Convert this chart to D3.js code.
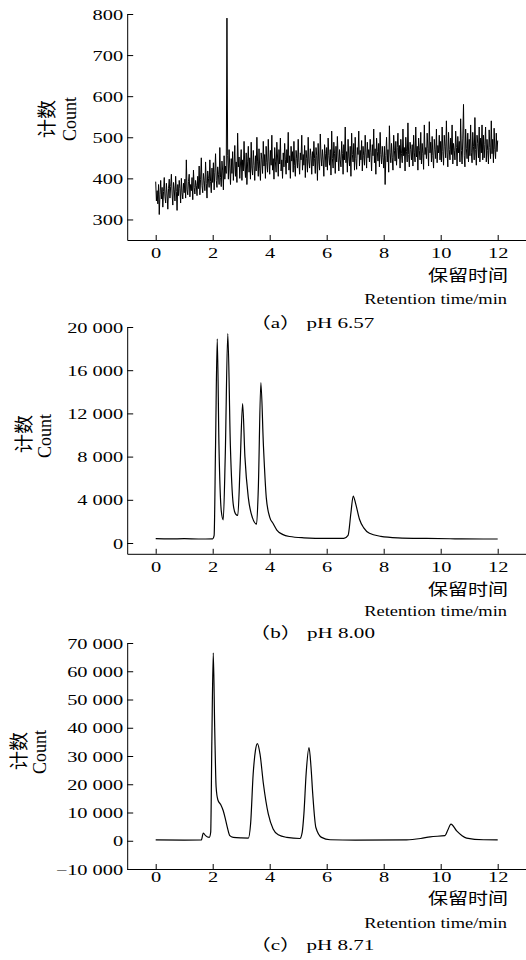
<!DOCTYPE html>
<html><head><meta charset="utf-8">
<script src="https://cdn.jsdelivr.net/npm/d3@7"></script>
<style>html,body{margin:0;padding:0;background:#fff;}</style>
</head><body>
<svg id="chart" width="526" height="960"></svg>
<script>
// ---------------- DATA ----------------
const xTicks = [0, 2, 4, 6, 8, 10, 12];
const yTicksA = [300, 400, 500, 600, 700, 800];
const yTicksB = [0, 4000, 8000, 12000, 16000, 20000];
const yTicksC = [-10000, 0, 10000, 20000, 30000, 40000, 50000, 60000, 70000];
const captions = ["（a） pH 6.57", "（b） pH 8.00", "（c） pH 8.71"];
const xTitleCN = "保留时间";
const xTitleEN = "Retention time/min";
const yTitleCN = "计数";
const yTitleEN = "Count";

// (a) pH 6.57 — sampled every 0.025 min from 0 to 12 min (one row = 0.5 min)
const sampleStepA = 0.025;
const countsA = [
  392, 345, 370, 338, 385, 312, 360, 395, 350, 378, 330, 368, 402, 355, 340, 388, 362, 325, 375, 398,
  352, 380, 410, 362, 335, 390, 372, 345, 405, 368, 322, 385, 358, 395, 375, 340, 400, 365, 350, 388,
  365, 398, 352, 445, 372, 360, 392, 410, 355, 385, 370, 402, 348, 420, 378, 362, 395, 382, 358, 405,
  375, 430, 360, 398, 450, 382, 365, 412, 395, 370, 440, 388, 352, 418, 400, 378, 445, 392, 365, 425,
  390, 438, 372, 415, 460, 395, 378, 428, 410, 385, 475, 402, 380, 442, 418, 372, 455, 398, 430, 412,
  790, 455, 398, 470, 425, 385, 448, 412, 465, 395, 430, 480, 405, 440, 390, 510, 428, 452, 400, 435,
  470, 395, 445, 418, 490, 430, 402, 462, 385, 440, 478, 415, 450, 398, 488, 425, 408, 468, 432, 395,
  455, 418, 500, 440, 405, 472, 425, 395, 462, 445, 412, 490, 430, 458, 400, 478, 438, 415, 495, 442,
  410, 468, 432, 505, 420, 448, 398, 475, 440, 415, 488, 452, 405, 470, 435, 498, 418, 445, 400, 462,
  428, 485, 445, 410, 470, 438, 512, 420, 455, 400, 478, 442, 465, 415, 490, 432, 405, 468, 448, 425,
  495, 438, 410, 462, 445, 505, 420, 458, 432, 480, 402, 468, 448, 415, 500, 440, 425, 472, 455, 410,
  465, 430, 490, 448, 412, 475, 455, 395, 485, 440, 420, 508, 452, 430, 470, 445, 405, 482, 460, 428,
  475, 420, 498, 455, 432, 470, 408, 515, 448, 425, 488, 460, 412, 478, 440, 502, 452, 418, 470, 445,
  428, 490, 460, 410, 482, 445, 525, 438, 465, 415, 495, 452, 430, 478, 405, 510, 458, 440, 485, 420,
  500, 448, 422, 475, 458, 515, 430, 468, 445, 492, 418, 478, 455, 432, 505, 462, 425, 488, 450, 470,
  440, 495, 462, 418, 482, 455, 520, 438, 472, 410, 498, 465, 442, 485, 428, 512, 458, 435, 478, 450,
  425, 478, 385, 455, 500, 440, 470, 415, 528, 462, 438, 485, 450, 420, 505, 468, 442, 490, 432, 475,
  510, 448, 480, 425, 495, 460, 438, 520, 455, 475, 418, 500, 465, 440, 535, 458, 428, 488, 470, 445,
  482, 430, 505, 462, 440, 525, 452, 478, 420, 498, 468, 445, 512, 435, 485, 460, 422, 530, 458, 475,
  448, 510, 472, 430, 538, 462, 488, 440, 502, 455, 425, 495, 470, 448, 520, 438, 480, 462, 505, 445,
  490, 440, 525, 465, 432, 505, 478, 450, 540, 462, 428, 512, 470, 445, 498, 458, 530, 435, 485, 468,
  445, 515, 475, 430, 502, 462, 490, 440, 545, 468, 435, 498, 580, 455, 428, 520, 472, 448, 510, 440,
  495, 455, 530, 462, 438, 512, 478, 445, 548, 470, 432, 505, 485, 450, 525, 440, 498, 462, 530, 445,
  505, 450, 482, 525, 440, 495, 468, 435, 518, 475, 448, 540, 460, 495, 438, 522, 470, 448, 510, 465,
  492
];

// (b) pH 8.00
const timesB = [0, 0.5, 1.0, 1.5, 2.0, 2.05, 2.1, 2.16, 2.22, 2.3, 2.37, 2.44, 2.53, 2.62, 2.72, 2.8, 2.88,
  2.96, 3.05, 3.13, 3.25, 3.4, 3.54, 3.6, 3.69, 3.78, 3.88, 4.0, 4.12, 4.25, 4.45, 4.7, 5.2, 6.0, 6.6,
  6.75, 6.85, 6.93, 7.02, 7.15, 7.3, 7.5, 7.9, 8.5, 9.5, 10.5, 11.5, 12];
const countsB = [400, 380, 400, 370, 390, 700, 9000, 18900, 9000, 3000, 2150, 8000, 19400, 9000, 3600, 2700, 2550,
  7000, 12900, 8000, 4200, 2300, 1750, 5000, 14850, 9000, 4200, 2400, 1800, 1200, 800, 600, 480, 420, 420,
  700, 2800, 4350, 3600, 2200, 1400, 900, 620, 480, 420, 390, 370, 370];

// (c) pH 8.71
const timesC = [0, 1.0, 1.6, 1.67, 1.75, 1.88, 1.93, 1.97, 2.02, 2.07, 2.12, 2.18, 2.28, 2.37, 2.45, 2.52, 2.6,
  2.72, 3.0, 3.25, 3.33, 3.42, 3.5, 3.57, 3.66, 3.78, 3.95, 4.12, 4.3, 4.6, 5.06, 5.14, 5.2, 5.28, 5.38,
  5.45, 5.51, 5.62, 5.82, 6.12, 7.0, 8.8, 9.3, 9.63, 10.15, 10.25, 10.36, 10.56, 10.75, 10.91, 11.5, 12];
const countsC = [300, 250, 280, 2700, 1800, 1200, 3000, 35000, 66500, 40000, 19000, 14500, 12800, 10600, 7500, 4500, 1800,
  1200, 1000, 950, 6000, 23600, 32000, 34400, 30700, 20100, 9500, 4200, 2100, 1200, 800, 3000, 9500, 24000, 33000,
  26000, 16600, 4700, 1200, 350, 250, 300, 800, 1400, 1800, 3800, 5900, 3500, 1800, 950, 350, 300];

// ---------------- LAYOUT ----------------
const SERIF = "'Liberation Serif','Times New Roman',serif";
const CJK = "'Noto Sans CJK SC','Noto Sans',sans-serif";
const SX = 1.36; // horizontal stretch of the original typesetting
const xLeft = 127.2, xRight = 526.2;

const panels = [
  { times: countsA.map((_, i) => i * sampleStepA), counts: countsA, yDomain: [250, 800], yRange: [240, 14],
    ticks: yTicksA, curve: d3.curveLinear, lw: 1, tickBase: 258, cnBase: 281, enBase: 304, capBase: 328,
    ylabCN: [45, 119], ylabEN: [70, 119] },
  { times: timesB, counts: countsB, yDomain: [-1000, 20000], yRange: [553.8, 327],
    ticks: yTicksB, curve: d3.curveMonotoneX, lw: 1.2, tickBase: 572, cnBase: 595, enBase: 616, capBase: 638,
    ylabCN: [22, 434], ylabEN: [45, 436] },
  { times: timesC, counts: countsC, yDomain: [-10000, 70000], yRange: [869, 643],
    ticks: yTicksC, curve: d3.curveMonotoneX, lw: 1.2, tickBase: 882, cnBase: 904, enBase: 928, capBase: 950,
    ylabCN: [17, 751], ylabEN: [40, 752] }
];

const fmt = d3.formatLocale({decimal: ".", thousands: " ", grouping: [3], currency: ["", ""], minus: "\u2212"}).format(",d");

const svg = d3.select("#chart");

function label(x, y, s, family, size, anchor, sx) {
  return svg.append("text")
    .attr("transform", `translate(${x},${y}) scale(${sx},1)`)
    .attr("font-family", family).attr("font-size", size)
    .attr("text-anchor", anchor).attr("fill", "#000").text(s);
}

panels.forEach((p, k) => {
  const x = d3.scaleLinear().domain([-1, 13]).range([xLeft, xRight]);
  const y = d3.scaleLinear().domain(p.yDomain).range(p.yRange);
  const axisY = p.yRange[0];

  // x axis
  const gx = svg.append("g").attr("transform", `translate(0,${axisY})`)
    .call(d3.axisBottom(x).tickValues(xTicks).tickSizeInner(-5).tickSizeOuter(0).tickFormat(d3.format("d")));
  gx.selectAll("text").attr("y", null).attr("dy", null)
    .attr("transform", `translate(0,${p.tickBase - axisY}) scale(${SX},1)`)
    .attr("font-family", SERIF).attr("font-size", 15).attr("fill", "#000");

  // y axis
  const gy = svg.append("g").attr("transform", `translate(${xLeft},0)`)
    .call(d3.axisLeft(y).tickValues(p.ticks).tickSizeInner(-6).tickSizeOuter(0).tickFormat(fmt));
  gy.selectAll("text").attr("x", null).attr("dy", "0.34em")
    .attr("transform", `translate(-4,0) scale(${SX},1)`)
    .attr("font-family", SERIF).attr("font-size", 15).attr("fill", "#000");

  svg.selectAll(".domain, .tick line").attr("stroke", "#000").attr("stroke-width", 1);

  // line
  const data = p.times.map((t, i) => [t, p.counts[i]]);
  svg.append("path").datum(data)
    .attr("fill", "none").attr("stroke", "#000").attr("stroke-width", p.lw).attr("stroke-linejoin", "round")
    .attr("d", d3.line().x(d => x(d[0])).y(d => y(d[1])).curve(p.curve));

  // titles
  label(508, p.cnBase, xTitleCN, CJK, 16, "end", 1.25);
  label(507, p.enBase, xTitleEN, SERIF, 15, "end", 1.23);
  label(312, p.capBase, captions[k], SERIF + "," + CJK, 15.5, "middle", 1.36);

  svg.append("text").attr("transform", `translate(${p.ylabCN[0]},${p.ylabCN[1]}) rotate(-90)`)
    .attr("font-family", CJK).attr("font-size", 19).attr("text-anchor", "middle")
    .attr("dominant-baseline", "central").text(yTitleCN);
  svg.append("text").attr("transform", `translate(${p.ylabEN[0]},${p.ylabEN[1]}) rotate(-90)`)
    .attr("font-family", SERIF).attr("font-size", 18).attr("text-anchor", "middle")
    .attr("dominant-baseline", "central").text(yTitleEN);
});
</script>
</body></html>
